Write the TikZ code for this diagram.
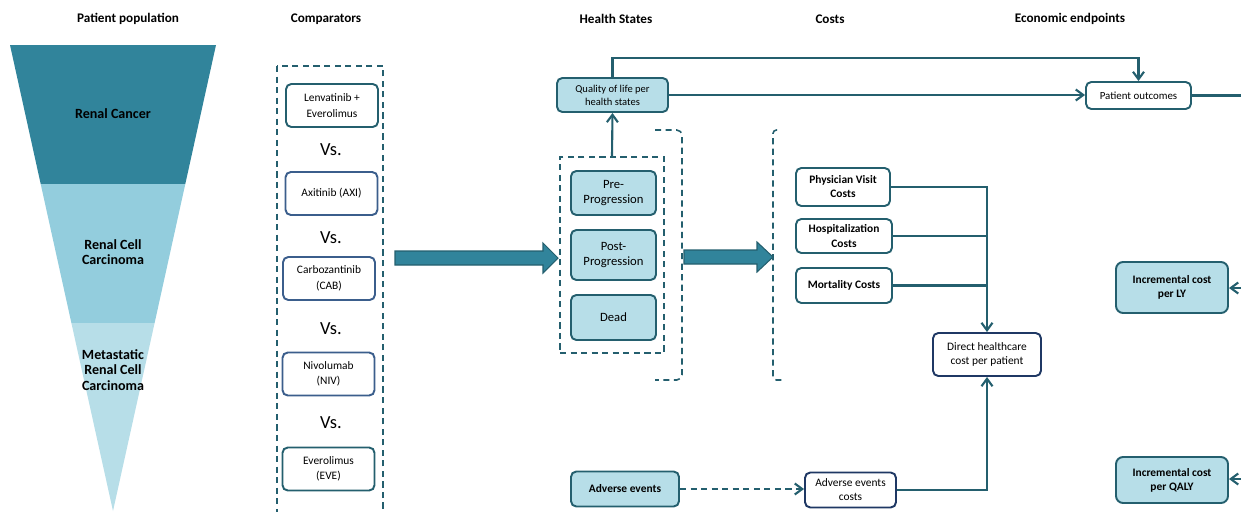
\documentclass[tikz,border=0pt]{standalone}
\usepackage{fontspec}
\setmainfont{Carlito}
\usetikzlibrary{arrows.meta, positioning, calc}
\definecolor{AquaDark}{HTML}{31849B}
\definecolor{AquaMid}{HTML}{93CDDD}
\definecolor{AquaLight}{HTML}{B7DEE8}
\definecolor{TealLine}{HTML}{245F6E}
\definecolor{SteelBlue}{HTML}{3B5E8C}
\definecolor{NavyLine}{HTML}{1F3864}

\begin{document}
\begin{tikzpicture}[x=0.02cm, y=-0.02cm,
    title/.style={font=\bfseries\fontsize{7.5}{9}\selectfont},
    funneltext/.style={font=\bfseries\fontsize{8}{8.7}\selectfont, align=center},
    drug/.style={draw=TealLine, fill=white, line width=1.1pt, rounded corners=3pt, align=center, inner sep=1pt,
        font=\fontsize{6.5}{8.8}\selectfont, minimum width=1.84cm, minimum height=0.86cm},
    versus/.style={font=\fontsize{10.5}{12}\selectfont},
    state/.style={draw=TealLine, fill=AquaLight, line width=1.1pt, rounded corners=3pt, align=center, inner sep=1pt,
        font=\fontsize{7.2}{8.4}\selectfont, minimum width=1.70cm},
    cost/.style={draw=TealLine, fill=white, line width=1.1pt, rounded corners=3pt, align=center, inner sep=1pt,
        font=\bfseries\fontsize{6.5}{8}\selectfont},
    result/.style={draw=TealLine, fill=AquaLight, line width=1.1pt, rounded corners=4pt, align=center, inner sep=1pt,
        font=\bfseries\fontsize{6.5}{8}\selectfont, minimum width=2.24cm},
    grp/.style={draw=TealLine, line width=1.1pt, dash pattern=on 3.5pt off 2.5pt},
    link/.style={draw=TealLine, line width=1.2pt},
    conn/.style={link, -{Straight Barb[length=1.5mm,width=2.2mm]}},
    bigarrow/.style={fill=AquaDark, draw=TealLine, line width=0.6pt}]
    \clip (0,0) rectangle (1241,511);

    % Column headings
    \node[title] (tpop) at (128,19) {Patient population};
    \node[title] (tcomp) at (326,19) {Comparators};
    \node[title] (ths) at (616,19) {Health States};
    \node[title] (tcost) at (830,19) {Costs};
    \node[title] (tecon) at (1070,19) {Economic endpoints};

    % Patient population funnel
    \fill[AquaDark] (10,45) -- (216,45) -- (185.3,184) -- (40.7,184) -- cycle;
    \fill[AquaMid] (40.7,184) -- (185.3,184) -- (154.6,323) -- (71.4,323) -- cycle;
    \fill[AquaLight] (71.4,323) -- (154.6,323) -- (113,511) -- cycle;
    \node[funneltext] (rc) at (113,114) {Renal Cancer};
    \node[funneltext] (rcc) at (113,252) {Renal Cell\\Carcinoma};
    \node[funneltext] (mrcc) at (113,370) {Metastatic\\Renal Cell\\Carcinoma};

    % Comparators
    \draw[grp] (277,66) rectangle (383,540);
    \node[drug] (lenva) at (332,105.5) {Lenvatinib +\\Everolimus};
    \node[versus] (vs1) at (331,150) {Vs.};
    \node[drug, draw=SteelBlue] (axi) at (331.5,193.5) {Axitinib (AXI)};
    \node[versus] (vs2) at (331,238) {Vs.};
    \node[drug, draw=SteelBlue] (cab) at (329,278.5) {Carbozantinib\\(CAB)};
    \node[versus] (vs3) at (331,329) {Vs.};
    \node[drug, draw=SteelBlue] (niv) at (328.5,374) {Nivolumab\\(NIV)};
    \node[versus] (vs4) at (331,423) {Vs.};
    \node[drug] (eve) at (328.5,469) {Everolimus\\(EVE)};

    \draw[bigarrow] (395,251) -- (543,251) -- (543,243) -- (558,258) -- (543,273) -- (543,265) -- (395,265) -- cycle;

    % Health states
    \node[grp, minimum width=2.08cm, minimum height=3.92cm] (hsgroup) at (612,255) {};
    \draw[grp, line width=0.9pt, rounded corners=3pt] (655,130) -- (682,130) -- (682,380) -- (655,380);
    \node[state, minimum height=0.88cm] (pre) at (613.5,193) {Pre-\\Progression};
    \node[state, minimum height=1.0cm] (post) at (613.5,255) {Post-\\Progression};
    \node[state, minimum height=0.9cm] (dead) at (613.5,317.5) {Dead};
    \node[state, font=\fontsize{6}{7.4}\selectfont, minimum width=2.22cm, minimum height=0.68cm] (qol) at (612.5,95) {Quality of life per\\health states};
    \draw[conn] (hsgroup.north) -- (qol.south);

    \draw[bigarrow] (684,250) -- (757,250) -- (757,242) -- (773,257) -- (757,272) -- (757,264) -- (684,264) -- cycle;

    % Costs
    \draw[grp, line width=0.9pt, rounded corners=2pt] (777,130) -- (773,130) -- (773,380) -- (783,380);
    \node[cost, minimum width=1.88cm, minimum height=0.76cm] (phys) at (843,187) {Physician Visit\\Costs};
    \node[cost, minimum width=1.92cm, minimum height=0.68cm] (hosp) at (844,236) {Hospitalization\\Costs};
    \node[cost, minimum width=1.92cm, minimum height=0.70cm] (mort) at (844,285.5) {Mortality Costs};
    \node[cost, draw=NavyLine, font=\fontsize{6.5}{8}\selectfont, minimum width=2.16cm, minimum height=0.86cm] (direct) at (987,354.5) {Direct healthcare\\cost per patient};
    \node[cost, fill=AquaLight, minimum width=2.16cm, minimum height=0.70cm] (ae) at (625,489) {Adverse events};
    \node[cost, draw=NavyLine, font=\fontsize{6.5}{8}\selectfont, minimum width=1.82cm, minimum height=0.70cm] (aec) at (850.5,490) {Adverse events\\costs};

    \draw[conn] (phys.east) -| (direct.north);
    \draw[link] (hosp.east) -- (hosp.east -| direct.north);
    \draw[link] (mort.east) -- (mort.east -| direct.north);
    \draw[conn, dash pattern=on 3.5pt off 2.5pt] (ae.east) -- (ae.east -| aec.west);
    \draw[conn] (aec.east) -| (direct.south);

    % Economic endpoints
    \node[cost, font=\fontsize{6.2}{7.5}\selectfont, minimum width=2.10cm, minimum height=0.54cm] (outc) at (1138.5,95.5) {Patient outcomes};
    \node[result, minimum height=1.02cm] (ly) at (1172,287.5) {Incremental cost\\per LY};
    \node[result, minimum height=0.92cm] (qaly) at (1172,480) {Incremental cost\\per QALY};
    \coordinate (toprow) at (0,58);
    \coordinate (outR) at (1260,96);
    \coordinate (lyR) at (1260,288);
    \coordinate (qalyR) at (1260,479);

    \draw[conn] (qol.north) -- (qol.north |- toprow) -| (outc.north);
    \draw[conn] (qol.east) -- (qol.east -| outc.west);
    \draw[link] (outc.east) -- (outc.east -| outR);
    \draw[conn] (lyR) -- (lyR -| ly.east);
    \draw[conn] (qalyR) -- (qalyR -| qaly.east);
\end{tikzpicture}
\end{document}
